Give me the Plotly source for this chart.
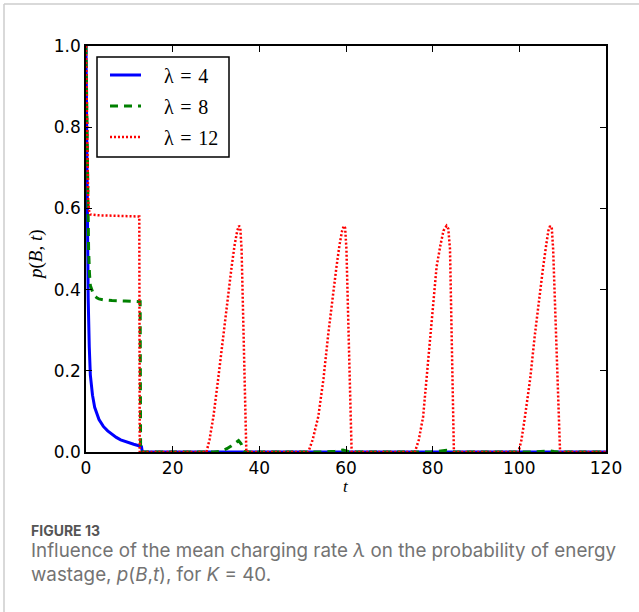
import plotly.graph_objects as go

# ---- data: probability of energy wastage p(B,t) for K = 40 ----
t_lam4 = [0, 0.25, 0.5, 0.75, 1.0, 1.5, 2.0, 3.0, 4.0, 5.0, 6.0, 7.0, 8.0, 9.0,
          10.0, 11.0, 12.0, 12.8, 13.0, 120]
p_lam4 = [1.0, 0.62, 0.38, 0.26, 0.19, 0.14, 0.11, 0.08, 0.063, 0.052, 0.043,
          0.036, 0.030, 0.026, 0.022, 0.019, 0.016, 0.013, 0.0, 0.0]

t_lam8 = [0, 0.2, 0.4, 0.6, 0.8, 1.0, 1.5, 2.0, 2.5, 3.0, 4.0, 6.0, 9.0, 12.0,
          12.5, 12.6,
          29.5, 31.0, 32.5, 33.5, 34.5, 35.2, 35.8, 36.4, 36.8,
          55.0, 57.5, 59.3, 60.3, 61.0,
          79.5, 81.5, 83.2, 84.3, 85.0,
          103.5, 105.5, 107.1, 108.0, 109.0, 120]
p_lam8 = [1.0, 0.8, 0.62, 0.5, 0.44, 0.41, 0.395, 0.385, 0.38, 0.377, 0.375,
          0.373, 0.372, 0.371, 0.37, 0.0,
          0.0, 0.002, 0.008, 0.015, 0.024, 0.028, 0.02, 0.005, 0.0,
          0.0, 0.002, 0.005, 0.002, 0.0,
          0.0, 0.002, 0.004, 0.002, 0.0,
          0.0, 0.001, 0.003, 0.001, 0.0, 0.0]

t_lam12 = [0, 0.1, 0.2, 0.3, 0.5, 0.7, 1.0, 3.0, 6.0, 9.0, 12.0, 12.3, 12.4,
           27.8, 28.5, 29.4, 30.5, 31.7, 32.7, 33.6, 34.3, 34.9, 35.3, 35.6,
           35.9, 36.45, 37.0,
           51.3, 52.3, 53.6, 54.8, 55.9, 56.9, 57.8, 58.5, 59.1, 59.5, 59.8,
           60.1, 60.7, 61.3,
           75.9, 76.8, 77.8, 78.6, 79.4, 80.2, 80.9, 81.8, 82.5, 83.2, 83.6,
           84.0, 84.45, 84.9,
           99.8, 100.5, 101.3, 102.5, 103.6, 104.6, 105.5, 106.2, 106.7, 107.1,
           107.5, 107.8, 108.6, 109.4, 120]
p_lam12 = [1.0, 0.9, 0.8, 0.7, 0.62, 0.595, 0.585, 0.583, 0.582, 0.582, 0.581,
           0.58, 0.0,
           0.0, 0.03, 0.087, 0.18, 0.29, 0.385, 0.456, 0.51, 0.545, 0.557, 0.553,
           0.5, 0.25, 0.0,
           0.0, 0.03, 0.087, 0.18, 0.29, 0.385, 0.456, 0.51, 0.545, 0.557, 0.552,
           0.5, 0.25, 0.0,
           0.0, 0.03, 0.087, 0.18, 0.29, 0.385, 0.456, 0.51, 0.545, 0.557, 0.55,
           0.5, 0.25, 0.0,
           0.0, 0.03, 0.087, 0.18, 0.29, 0.385, 0.456, 0.51, 0.545, 0.557, 0.55,
           0.5, 0.25, 0.0, 0.0]

sp = "\u2004"
series_names = [f"\u03bb{sp}={sp}4", f"\u03bb{sp}={sp}8", f"\u03bb{sp}={sp}12"]
x_ticks = [0, 20, 40, 60, 80, 100, 120]
y_ticks = [0.0, 0.2, 0.4, 0.6, 0.8, 1.0]
y_tick_text = ["0.0", "0.2", "0.4", "0.6", "0.8", "1.0"]

caption_label = "FIGURE 13"
caption_lines = [
    "Influence of the mean charging rate <i>\u03bb</i> on the probability of energy",
    "wastage, <i>p</i>(<i>B</i>,<i>t</i>), for <i>K</i> = 40.",
]

line_styles = [
    dict(color="#0000ff", width=3),
    dict(color="#008000", width=3, dash="8px,6px"),
    dict(color="#ff0000", width=2.5, dash="2px,2px"),
]

W, H = 639, 612
L, R, T, B = 86, 33, 46, 160
PW, PH = W - L - R, H - T - B


def px(x):
    """page pixel x -> paper coordinate"""
    return (x - L) / PW


def py(y):
    """page pixel y (from top) -> paper coordinate"""
    return (H - B - y) / PH


fig = go.Figure()
for tv, pv, name, style in zip([t_lam4, t_lam8, t_lam12],
                               [p_lam4, p_lam8, p_lam12],
                               series_names, line_styles):
    fig.add_trace(go.Scatter(x=tv, y=pv, mode="lines", name=name,
                             line=style, showlegend=False))

axis_common = dict(
    showline=True, linecolor="black", linewidth=1.5, mirror="ticks",
    ticks="inside", ticklen=6, tickwidth=1, tickcolor="black",
    showgrid=False, zeroline=False,
    tickfont=dict(family="DejaVu Sans", size=17, color="black"),
)

fig.update_xaxes(range=[0, 120], tickvals=x_ticks, **axis_common)
fig.update_yaxes(range=[0, 1], tickvals=y_ticks, ticktext=y_tick_text, **axis_common)

serif = "Liberation Serif, DejaVu Serif, serif"
cap_font = "Inter, Noto Sans, sans-serif"

annotations = [
    dict(x=px(36), y=py(255), xref="paper", yref="paper", showarrow=False,
         xanchor="center", yanchor="middle",
         text="<i>p</i>(<i>B</i>, <i>t</i>)", textangle=-90,
         font=dict(family=serif, size=19, color="black")),
    dict(x=px(346), y=py(475), xref="paper", yref="paper", showarrow=False,
         xanchor="center", yanchor="top",
         text="<i>t</i>", font=dict(family=serif, size=17, color="black")),
    dict(x=px(29), y=py(530), xref="paper", yref="paper", showarrow=False,
         xanchor="left", yanchor="middle", text=f"<b>{caption_label}</b>",
         font=dict(family=cap_font, size=14, color="#555555")),
]
for cy, line_text in zip([550.5, 574], caption_lines):
    annotations.append(dict(x=px(29), y=py(cy), xref="paper", yref="paper",
                            showarrow=False, xanchor="left", yanchor="middle",
                            text=line_text,
                            font=dict(family=cap_font, size=18.8, color="#737373")))

# legend drawn as a framed box with line samples and labels
leg_rows = [75, 106, 137]
shapes = [
    dict(type="line", xref="paper", yref="paper", x0=px(4), x1=px(4),
         y0=py(4), y1=py(W), line=dict(color="#cccccc", width=1.5)),
    dict(type="line", xref="paper", yref="paper", x0=px(4), x1=px(W + 5),
         y0=py(4), y1=py(4), line=dict(color="#cccccc", width=1.5)),
    dict(type="rect", xref="paper", yref="paper", x0=px(97), x1=px(229),
         y0=py(157), y1=py(57), fillcolor="white",
         line=dict(color="black", width=1.5), layer="above"),
]
for row, name, style in zip(leg_rows, series_names, line_styles):
    shapes.append(dict(type="line", xref="paper", yref="paper",
                       x0=px(110), x1=px(141), y0=py(row), y1=py(row),
                       line=style, layer="above"))
    annotations.append(dict(x=px(162), y=py(row + 1), xref="paper", yref="paper",
                            showarrow=False, xanchor="left", yanchor="middle",
                            text=name,
                            font=dict(family=serif, size=20, color="black")))

fig.update_layout(
    width=W, height=H,
    margin=dict(l=L, r=R, t=T, b=B, pad=0),
    paper_bgcolor="white", plot_bgcolor="white",
    showlegend=False,
    annotations=annotations,
    shapes=shapes,
)

fig.write_html("out.html")
